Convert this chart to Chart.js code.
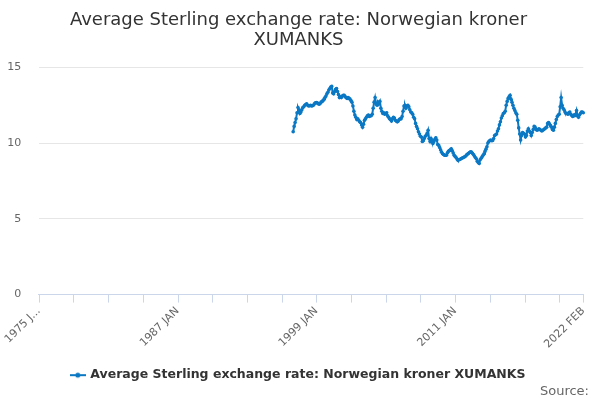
<!DOCTYPE html>
<html>
<head>
<meta charset="utf-8">
<script src="https://cdn.jsdelivr.net/npm/chart.js@4.4.1/dist/chart.umd.min.js"></script>
<style>
  html, body { margin: 0; padding: 0; background: #fff; }
  #wrap { width: 600px; height: 400px; }
</style>
</head>
<body>
<div id="wrap"><canvas id="rateChart"></canvas></div>
<script>
const firstYear = 1975;
const lastYear = 2022;
const lastMonth = 2; // FEB
const monthNames = ['JAN', 'FEB', 'MAR', 'APR', 'MAY', 'JUN', 'JUL', 'AUG', 'SEP', 'OCT', 'NOV', 'DEC'];
const seriesName = 'Average Sterling exchange rate: Norwegian kroner XUMANKS';
const seriesStart = '1997 JAN';
// monthly averages, one row per year from 1997
const rates = [
  10.75, 11.1, 11.35, 11.6, 12.0, 12.35, 12.2, 11.95, 12.05, 12.2, 12.35, 12.4,
  12.5, 12.55, 12.6, 12.5, 12.45, 12.46, 12.5, 12.45, 12.46, 12.5, 12.6, 12.65,
  12.68, 12.65, 12.6, 12.57, 12.62, 12.7, 12.75, 12.8, 12.9, 13.0, 13.1, 13.25,
  13.35, 13.5, 13.6, 13.7, 13.74, 13.3, 13.25, 13.4, 13.55, 13.6, 13.4, 13.2,
  13.0, 13.05, 13.0, 13.1, 13.15, 13.15, 13.05, 13.0, 12.95, 13.0, 12.95, 12.9,
  12.8, 12.7, 12.45, 12.1, 11.85, 11.7, 11.55, 11.6, 11.5, 11.4, 11.35, 11.2,
  11.05, 11.25, 11.5, 11.6, 11.7, 11.8, 11.85, 11.75, 11.8, 11.8, 11.9, 12.3,
  12.7, 13.0, 12.6, 12.5, 12.7, 12.6, 12.75, 12.3, 12.1, 11.95, 12.0, 11.9,
  11.95, 12.0, 11.8, 11.7, 11.6, 11.55, 11.45, 11.6, 11.7, 11.65, 11.5, 11.45,
  11.4, 11.45, 11.55, 11.6, 11.6, 11.75, 12.1, 12.45, 12.5, 12.3, 12.45, 12.5,
  12.4, 12.2, 12.05, 12.0, 11.9, 11.7, 11.6, 11.3, 11.1, 10.95, 10.75, 10.6,
  10.45, 10.4, 10.1, 10.15, 10.3, 10.45, 10.5, 10.65, 10.85, 10.3, 10.1, 10.3,
  10.1, 9.97, 10.1, 10.25, 10.35, 10.2, 9.9, 9.85, 9.7, 9.55, 9.4, 9.3,
  9.25, 9.2, 9.2, 9.2, 9.35, 9.45, 9.5, 9.55, 9.63, 9.5, 9.35, 9.2,
  9.12, 9.05, 8.95, 8.86, 8.9, 8.92, 8.97, 9.0, 9.03, 9.06, 9.1, 9.15,
  9.22, 9.28, 9.32, 9.38, 9.42, 9.4, 9.32, 9.25, 9.15, 9.05, 8.97, 8.8,
  8.72, 8.65, 8.9, 9.0, 9.1, 9.19, 9.3, 9.45, 9.6, 9.75, 10.0, 10.1,
  10.17, 10.2, 10.15, 10.17, 10.3, 10.5, 10.55, 10.6, 10.8, 10.95, 11.2, 11.4,
  11.65, 11.8, 11.95, 12.0, 12.1, 12.5, 12.75, 12.95, 13.05, 13.15, 12.9, 12.7,
  12.5, 12.3, 12.15, 12.0, 11.9, 11.5, 11.0, 10.6, 10.2, 10.5, 10.7, 10.65,
  10.6, 10.4, 10.5, 10.8, 10.95, 10.8, 10.7, 10.5, 10.7, 10.9, 11.1, 11.05,
  10.9, 10.85, 10.9, 10.95, 10.9, 10.85, 10.8, 10.85, 10.9, 10.95, 11.0, 11.05,
  11.3, 11.35, 11.25, 11.15, 11.05, 10.9, 10.85, 11.05, 11.3, 11.55, 11.75, 11.85,
  11.9, 12.4, 13.0, 12.5, 12.3, 12.2, 12.05, 11.95, 11.95, 11.9, 12.0, 12.05,
  11.9, 11.82, 11.75, 11.85, 11.8, 11.9, 12.15, 11.8, 11.7, 11.85, 11.95, 12.05,
  12.05, 12.0
];
const yTicks = [0, 5, 10, 15];

const lineColor = '#0b78c4';
const axisColor = '#ccd6eb';

const labels = [];
for (let y = firstYear; y <= lastYear; y++) {
  for (let m = 0; m < 12; m++) {
    if (y === lastYear && m >= lastMonth) break;
    labels.push(y + ' ' + monthNames[m]);
  }
}
const startIdx = labels.indexOf(seriesStart);
const values = labels.map((l, i) => i < startIdx ? null : rates[i - startIdx]);
const lastIdx = labels.length - 1;
const isTickMark = i => i % 36 === 0 || i === lastIdx;

// legend marker: short line with a dot on it
const marker = document.createElement('canvas');
marker.width = 16;
marker.height = 8;
const mctx = marker.getContext('2d');
mctx.strokeStyle = lineColor;
mctx.lineWidth = 2;
mctx.beginPath();
mctx.moveTo(0, 4);
mctx.lineTo(16, 4);
mctx.stroke();
mctx.fillStyle = lineColor;
mctx.beginPath();
mctx.arc(8, 4, 2.5, 0, Math.PI * 2);
mctx.fill();

// short tick marks under the x axis every 3 years
const tickMarks = {
  id: 'tickMarks',
  afterDraw(chart) {
    const xs = chart.scales.x;
    const c = chart.ctx;
    c.save();
    c.strokeStyle = axisColor;
    c.lineWidth = 1;
    labels.forEach((l, i) => {
      if (!isTickMark(i)) return;
      const px = Math.round(xs.getPixelForValue(i)) + 0.5;
      c.beginPath();
      c.moveTo(px, xs.top);
      c.lineTo(px, xs.top + 8);
      c.stroke();
    });
    c.restore();
  }
};

const ctx = document.getElementById('rateChart').getContext('2d');

new Chart(ctx, {
  type: 'line',
  data: {
    labels: labels,
    datasets: [{
      label: seriesName,
      data: values,
      borderColor: lineColor,
      backgroundColor: lineColor,
      borderWidth: 2,
      pointRadius: 1.8,
      pointBorderWidth: 0,
      pointBackgroundColor: lineColor,
      tension: 0
    }]
  },
  plugins: [tickMarks],
  options: {
    responsive: true,
    maintainAspectRatio: false,
    animation: false,
    layout: { padding: { left: 8, right: 11, top: 8, bottom: 1 } },
    plugins: {
      title: {
        display: true,
        text: ['Average Sterling exchange rate: Norwegian kroner', 'XUMANKS'],
        color: '#333333',
        font: { family: 'DejaVu Sans', size: 18, weight: 'normal', lineHeight: 1.12 },
        padding: { top: 2, bottom: 17 }
      },
      subtitle: {
        display: true,
        position: 'bottom',
        align: 'end',
        text: 'Source:',
        color: '#666666',
        font: { family: 'DejaVu Sans', size: 13, weight: 'normal' },
        padding: { top: -8, bottom: 0 }
      },
      legend: {
        position: 'bottom',
        labels: {
          usePointStyle: true,
          pointStyle: marker,
          color: '#333333',
          font: { family: 'DejaVu Sans', size: 12.5, weight: 'bold' },
          padding: 2
        }
      },
      tooltip: { enabled: false }
    },
    scales: {
      x: {
        afterFit: scale => {
          // let the first rotated label hang into the left margin
          scale.paddingLeft = 0;
          scale.paddingRight = 16.7;
          scale.height += 14;
        },
        grid: {
          display: true,
          drawOnChartArea: false,
          drawTicks: true,
          tickLength: 8,
          tickColor: 'rgba(0,0,0,0)'
        },
        border: { display: true, color: axisColor, width: 1 },
        ticks: {
          autoSkip: false,
          minRotation: 45,
          maxRotation: 45,
          color: '#666666',
          font: { family: 'DejaVu Sans', size: 11 },
          padding: 2,
          callback: function (value, index) {
            const label = this.getLabelForValue(value);
            if (index === 0) return label.slice(0, 6) + '...';
            if (index % 144 === 0 || index === lastIdx) return label;
            if (isTickMark(index)) return '';
            return null;
          }
        }
      },
      y: {
        min: yTicks[0],
        max: yTicks[yTicks.length - 1],
        afterFit: scale => {
          scale.width = 30.7;
        },
        grid: { color: '#e6e6e6', drawTicks: false },
        border: { display: false },
        ticks: {
          stepSize: yTicks[1] - yTicks[0],
          color: '#666666',
          font: { family: 'DejaVu Sans', size: 11 },
          padding: 17.5
        }
      }
    }
  }
});
</script>
</body>
</html>
